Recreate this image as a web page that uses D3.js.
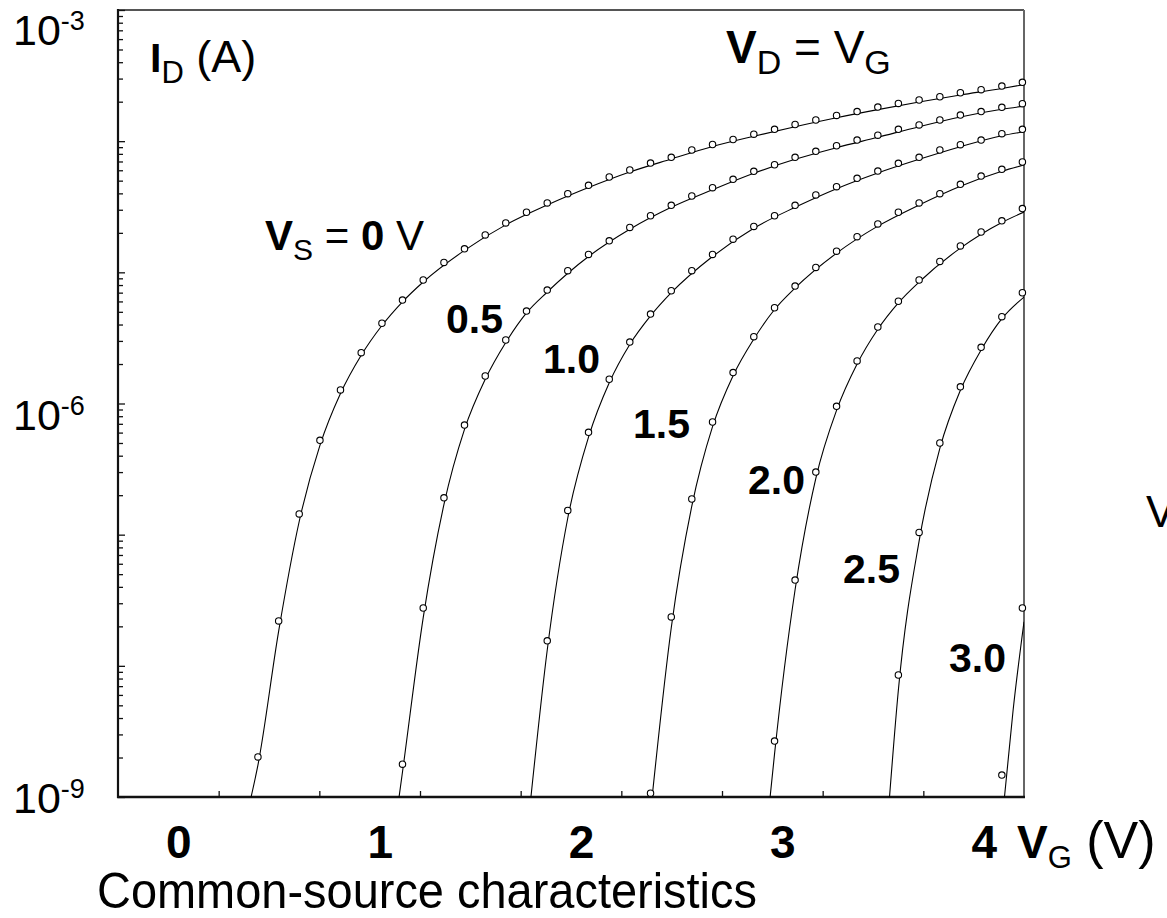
<!DOCTYPE html>
<html>
<head>
<meta charset="utf-8">
<script src="https://cdn.jsdelivr.net/npm/d3@7"></script>
<style>
  html, body { margin: 0; padding: 0; background: #fff; }
  svg { display: block; }
  text { font-family: "Liberation Sans", Arial, Helvetica, sans-serif; fill: #000; }
</style>
</head>
<body>
<svg id="chart" width="1167" height="918"></svg>
<script>
// Gate-voltage sweep (V) shared by all measured curves
const vgSweep = [0.395, 0.498, 0.600, 0.703, 0.805, 0.908, 1.011, 1.113, 1.216, 1.319,
                 1.421, 1.524, 1.626, 1.729, 1.832, 1.934, 2.037, 2.140, 2.242, 2.345,
                 2.448, 2.550, 2.653, 2.755, 2.858, 2.961, 3.063, 3.166, 3.269, 3.371,
                 3.474, 3.576, 3.679, 3.782, 3.884, 3.987, 4.090, 4.192];

// Source voltages (V) and their curve labels
const sourceVoltages = [0, 0.5, 1.0, 1.5, 2.0, 2.5, 3.0];
const curveLabels = ["0", "0.5", "1.0", "1.5", "2.0", "2.5", "3.0"];

// Index into vgSweep of the first measured point of each curve
const sweepStart = [0, 7, 14, 19, 25, 31, 36];

// Measured drain current ID (A), V_D = V_G
const idVs00 = [2.02e-9, 2.20e-8, 1.44e-7, 5.24e-7, 1.27e-6, 2.44e-6, 4.09e-6, 6.15e-6, 8.74e-6, 1.19e-5,
                1.51e-5, 1.93e-5, 2.38e-5, 2.87e-5, 3.38e-5, 3.98e-5, 4.61e-5, 5.33e-5, 6.03e-5, 6.81e-5,
                7.53e-5, 8.56e-5, 9.43e-5, 1.03e-4, 1.13e-4, 1.23e-4, 1.34e-4, 1.45e-4, 1.57e-4, 1.68e-4,
                1.82e-4, 1.94e-4, 2.06e-4, 2.18e-4, 2.34e-4, 2.47e-4, 2.63e-4, 2.81e-4];
const idVs05 = [1.78e-9, 2.76e-8, 1.91e-7, 6.85e-7, 1.62e-6, 3.05e-6, 5.07e-6, 7.33e-6, 1.03e-5, 1.37e-5,
                1.74e-5, 2.20e-5, 2.70e-5, 3.24e-5, 3.82e-5, 4.42e-5, 5.12e-5, 5.89e-5, 6.61e-5, 7.53e-5,
                8.37e-5, 9.23e-5, 1.02e-4, 1.11e-4, 1.23e-4, 1.33e-4, 1.45e-4, 1.58e-4, 1.68e-4, 1.81e-4,
                1.93e-4];
const idVs10 = [1.55e-8, 1.53e-7, 6.03e-7, 1.53e-6, 2.94e-6, 4.81e-6, 7.24e-6, 1.03e-5, 1.37e-5, 1.79e-5,
                2.24e-5, 2.70e-5, 3.24e-5, 3.89e-5, 4.50e-5, 5.21e-5, 5.92e-5, 6.78e-5, 7.53e-5, 8.56e-5,
                9.40e-5, 1.02e-4, 1.14e-4, 1.23e-4];
const idVs15 = [1.07e-9, 2.36e-8, 1.87e-7, 7.23e-7, 1.72e-6, 3.23e-6, 5.37e-6, 7.86e-6, 1.09e-5, 1.45e-5,
                1.87e-5, 2.34e-5, 2.87e-5, 3.38e-5, 3.98e-5, 4.69e-5, 5.42e-5, 6.10e-5, 6.94e-5];
const idVs20 = [2.67e-9, 4.51e-8, 3.00e-7, 9.52e-7, 2.11e-6, 3.83e-6, 6.02e-6, 8.74e-6, 1.21e-5, 1.59e-5,
                2.03e-5, 2.47e-5, 3.06e-5];
const idVs25 = [8.51e-9, 1.04e-7, 5.00e-7, 1.34e-6, 2.68e-6, 4.59e-6, 6.99e-6];
const idVs30 = [1.47e-9, 2.76e-8];

// Model curves: [V_G (V), I_D (A)] nodes
const fitVs00 = [[0.361, 1e-9], [0.395, 1.75e-9], [0.498, 1.84e-8], [0.600, 1.26e-7], [0.703, 4.79e-7],
                 [0.805, 1.19e-6], [0.908, 2.33e-6], [1.011, 3.93e-6], [1.113, 5.96e-6], [1.216, 8.44e-6],
                 [1.421, 1.47e-5], [1.626, 2.30e-5], [1.832, 3.26e-5], [2.037, 4.43e-5], [2.242, 5.82e-5],
                 [2.448, 7.31e-5], [2.653, 9.10e-5], [2.858, 1.09e-4], [3.063, 1.29e-4], [3.269, 1.51e-4],
                 [3.474, 1.74e-4], [3.679, 1.99e-4], [3.884, 2.25e-4], [4.090, 2.52e-4], [4.2, 2.70e-4]];
const fitVs05 = [[1.096, 1e-9], [1.113, 1.55e-9], [1.216, 2.33e-8], [1.319, 1.70e-7], [1.421, 6.35e-7],
                 [1.524, 1.53e-6], [1.626, 2.92e-6], [1.729, 4.91e-6], [1.832, 7.08e-6], [2.037, 1.32e-5],
                 [2.242, 2.13e-5], [2.448, 3.13e-5], [2.653, 4.26e-5], [2.858, 5.69e-5], [3.063, 7.27e-5],
                 [3.269, 8.92e-5], [3.474, 1.07e-4], [3.679, 1.29e-4], [3.884, 1.53e-4], [4.090, 1.75e-4],
                 [4.2, 1.85e-4]];
const fitVs10 = [[1.751, 1e-9], [1.832, 1.32e-8], [1.934, 1.34e-7], [2.037, 5.54e-7], [2.140, 1.44e-6],
                 [2.242, 2.82e-6], [2.345, 4.65e-6], [2.448, 6.99e-6], [2.653, 1.32e-5], [2.858, 2.17e-5],
                 [3.063, 3.13e-5], [3.269, 4.34e-5], [3.474, 5.72e-5], [3.679, 7.27e-5], [3.884, 9.07e-5],
                 [4.090, 1.10e-4], [4.2, 1.18e-4]];
const fitVs15 = [[2.353, 1e-9], [2.448, 1.95e-8], [2.550, 1.65e-7], [2.653, 6.66e-7], [2.755, 1.63e-6],
                 [2.858, 3.10e-6], [2.961, 5.21e-6], [3.063, 7.60e-6], [3.269, 1.40e-5], [3.474, 2.25e-5],
                 [3.679, 3.26e-5], [3.884, 4.53e-5], [4.090, 5.89e-5], [4.2, 6.58e-5]];
const fitVs20 = [[2.939, 1e-9], [2.961, 2.13e-9], [3.063, 3.80e-8], [3.166, 2.69e-7], [3.269, 8.87e-7],
                 [3.371, 2.00e-6], [3.474, 3.68e-6], [3.576, 5.85e-6], [3.679, 8.44e-6], [3.884, 1.53e-5],
                 [4.090, 2.40e-5], [4.2, 2.88e-5]];
const fitVs25 = [[3.532, 1e-9], [3.576, 6.54e-9], [3.679, 8.93e-8], [3.782, 4.55e-7], [3.884, 1.26e-6],
                 [3.987, 2.56e-6], [4.090, 4.43e-6], [4.2, 6.48e-6]];
const fitVs30 = [[4.103, 1e-9], [4.146, 4.61e-9], [4.2, 2.17e-8]];

// Axis ticks
const xTickLabels = [0, 1, 2, 3, 4];
const xMinorTicks = [0.2, 0.7, 1.2, 1.7, 2.2, 2.7, 3.2, 3.7];
const yDecadeLabels = [1e-3, 1e-6, 1e-9];
const yDecadeExponents = ["-3", "-6", "-9"];

// ---------------------------------------------------------------------------
const W = 1167, H = 918;
const plot = { left: 118, right: 1024, top: 10, bottom: 797 };

const x = d3.scaleLinear().domain([-0.3, 4.2]).range([plot.left, plot.right]);
const y = d3.scaleLog().domain([1e-9, 1e-3]).range([plot.bottom, plot.top]);

const svg = d3.select("#chart");
svg.append("rect").attr("width", W).attr("height", H).attr("fill", "#fff");

const measured = [idVs00, idVs05, idVs10, idVs15, idVs20, idVs25, idVs30];
const fits = [fitVs00, fitVs05, fitVs10, fitVs15, fitVs20, fitVs25, fitVs30];

const series = sourceVoltages.map((vs, i) => ({
  vs,
  label: curveLabels[i],
  points: measured[i].map((id, j) => ({ vg: vgSweep[sweepStart[i] + j], id })),
  fit: fits[i]
}));

// Frame: heavy left/bottom axes, lighter top/right border
const frame = svg.append("g");
frame.append("line").attr("x1", plot.left).attr("x2", plot.right).attr("y1", plot.top).attr("y2", plot.top)
  .attr("stroke", "#555").attr("stroke-width", 2);
frame.append("line").attr("x1", plot.right).attr("x2", plot.right).attr("y1", plot.top).attr("y2", plot.bottom)
  .attr("stroke", "#666").attr("stroke-width", 2);
frame.append("line").attr("x1", plot.left).attr("x2", plot.left).attr("y1", plot.top - 1).attr("y2", plot.bottom + 1)
  .attr("stroke", "#111").attr("stroke-width", 2.2);
frame.append("line").attr("x1", plot.left - 1).attr("x2", plot.right + 1).attr("y1", plot.bottom).attr("y2", plot.bottom)
  .attr("stroke", "#111").attr("stroke-width", 2.5);

// Inward log ticks on the left axis
const decades = y.ticks().filter(v => Math.abs(Math.log10(v) - Math.round(Math.log10(v))) < 1e-9);
const minors = y.ticks().filter(v => !decades.includes(v));
function tickAxis(gen, values, size) {
  const g = svg.append("g")
    .attr("transform", `translate(${plot.left},0)`)
    .call(gen.tickValues(values).tickSize(size).tickFormat(""));
  g.select(".domain").remove();
  g.selectAll(".tick line").attr("stroke", "#111").attr("stroke-width", 1.3);
  return g;
}
tickAxis(d3.axisRight(y), minors, 5);
tickAxis(d3.axisRight(y), decades, 7);

// Inward ticks on the bottom axis
const xTickG = svg.append("g")
  .attr("transform", `translate(0,${plot.bottom})`)
  .call(d3.axisTop(x).tickValues(xMinorTicks).tickSize(6).tickFormat(""));
xTickG.select(".domain").remove();
xTickG.selectAll(".tick line").attr("stroke", "#111").attr("stroke-width", 1.3);

// Bottom tick labels
const xLab = svg.append("g")
  .attr("transform", `translate(0,${plot.bottom})`)
  .call(d3.axisBottom(x).tickValues(xTickLabels).tickSize(0).tickPadding(28).tickFormat(d3.format("d")));
xLab.select(".domain").remove();
xLab.selectAll("text")
  .attr("font-family", "Liberation Sans, Arial, sans-serif")
  .attr("font-size", 46).attr("font-weight", "bold").attr("fill", "#000");

// Left decade labels 10^n
const yLabelShift = [35, 26, 16];
yDecadeLabels.forEach((v, i) => {
  const t = svg.append("text").attr("x", 13).attr("y", y(v) + yLabelShift[i]).attr("font-size", 43);
  t.append("tspan").text("10");
  t.append("tspan").attr("dy", -15).attr("font-size", 27).text(yDecadeExponents[i]);
});

// Model curves and measured points
svg.append("clipPath").attr("id", "plotClip")
  .append("rect").attr("x", plot.left).attr("y", plot.top)
  .attr("width", plot.right - plot.left).attr("height", plot.bottom - plot.top);

const line = d3.line().x(d => x(d[0])).y(d => y(d[1])).curve(d3.curveMonotoneX);

const curves = svg.append("g").attr("clip-path", "url(#plotClip)");
curves.selectAll("path").data(series).join("path")
  .attr("d", d => line(d.fit))
  .attr("fill", "none").attr("stroke", "#000").attr("stroke-width", 1.1);

const dots = svg.append("g");
series.forEach(s => {
  dots.selectAll(null).data(s.points).join("circle")
    .attr("cx", d => x(d.vg)).attr("cy", d => y(d.id)).attr("r", 3.2)
    .attr("fill", "#fff").attr("stroke", "#000").attr("stroke-width", 1.1);
});

// Curve labels
const labelAt = { "0.5": [446, 333], "1.0": [543, 373], "1.5": [633, 438],
                  "2.0": [748, 494], "2.5": [843, 583], "3.0": [949, 672] };
series.filter(s => s.vs > 0).forEach(s => {
  svg.append("text").attr("x", labelAt[s.label][0]).attr("y", labelAt[s.label][1])
    .attr("font-size", 41).attr("font-weight", "bold").text(s.label);
});

// "V_S = 0 V"
{
  const t = svg.append("text").attr("x", 265).attr("y", 250).attr("font-size", 42);
  t.append("tspan").attr("font-weight", "bold").text("V");
  t.append("tspan").attr("dy", 10).attr("font-size", 30).text("S");
  t.append("tspan").attr("dy", -10).text(" = ");
  t.append("tspan").attr("font-weight", "bold").text(series[0].label);
  t.append("tspan").text(" V");
}

// "I_D (A)"
{
  const t = svg.append("text").attr("x", 150).attr("y", 72).attr("font-size", 41);
  t.append("tspan").attr("font-weight", "bold").text("I");
  t.append("tspan").attr("dy", 11).attr("font-size", 31).text("D");
  t.append("tspan").attr("dy", -11).attr("font-size", 45).text(" (A)");
}

// "V_D = V_G"
{
  const t = svg.append("text").attr("x", 726).attr("y", 63).attr("font-size", 46);
  t.append("tspan").attr("font-weight", "bold").text("V");
  t.append("tspan").attr("dy", 11).attr("font-size", 34).text("D");
  t.append("tspan").attr("dy", -11).text(" = V");
  t.append("tspan").attr("dy", 11).attr("font-size", 34).text("G");
}

// "V_G (V)" axis title
{
  const t = svg.append("text").attr("x", 1017).attr("y", 858).attr("font-size", 46);
  t.append("tspan").attr("font-weight", "bold").text("V");
  t.append("tspan").attr("dy", 10).attr("font-size", 31).text("G");
  t.append("tspan").attr("dy", -10).attr("font-size", 52).text(" (V)");
}

// Caption
svg.append("text").attr("x", 97).attr("y", 908).attr("font-size", 50)
  .attr("textLength", 660).attr("lengthAdjust", "spacingAndGlyphs")
  .text("Common-source characteristics");

// Neighbouring panel's label at the right margin
svg.append("text").attr("x", 1146).attr("y", 527).attr("font-size", 44).text("V");
</script>
</body>
</html>
